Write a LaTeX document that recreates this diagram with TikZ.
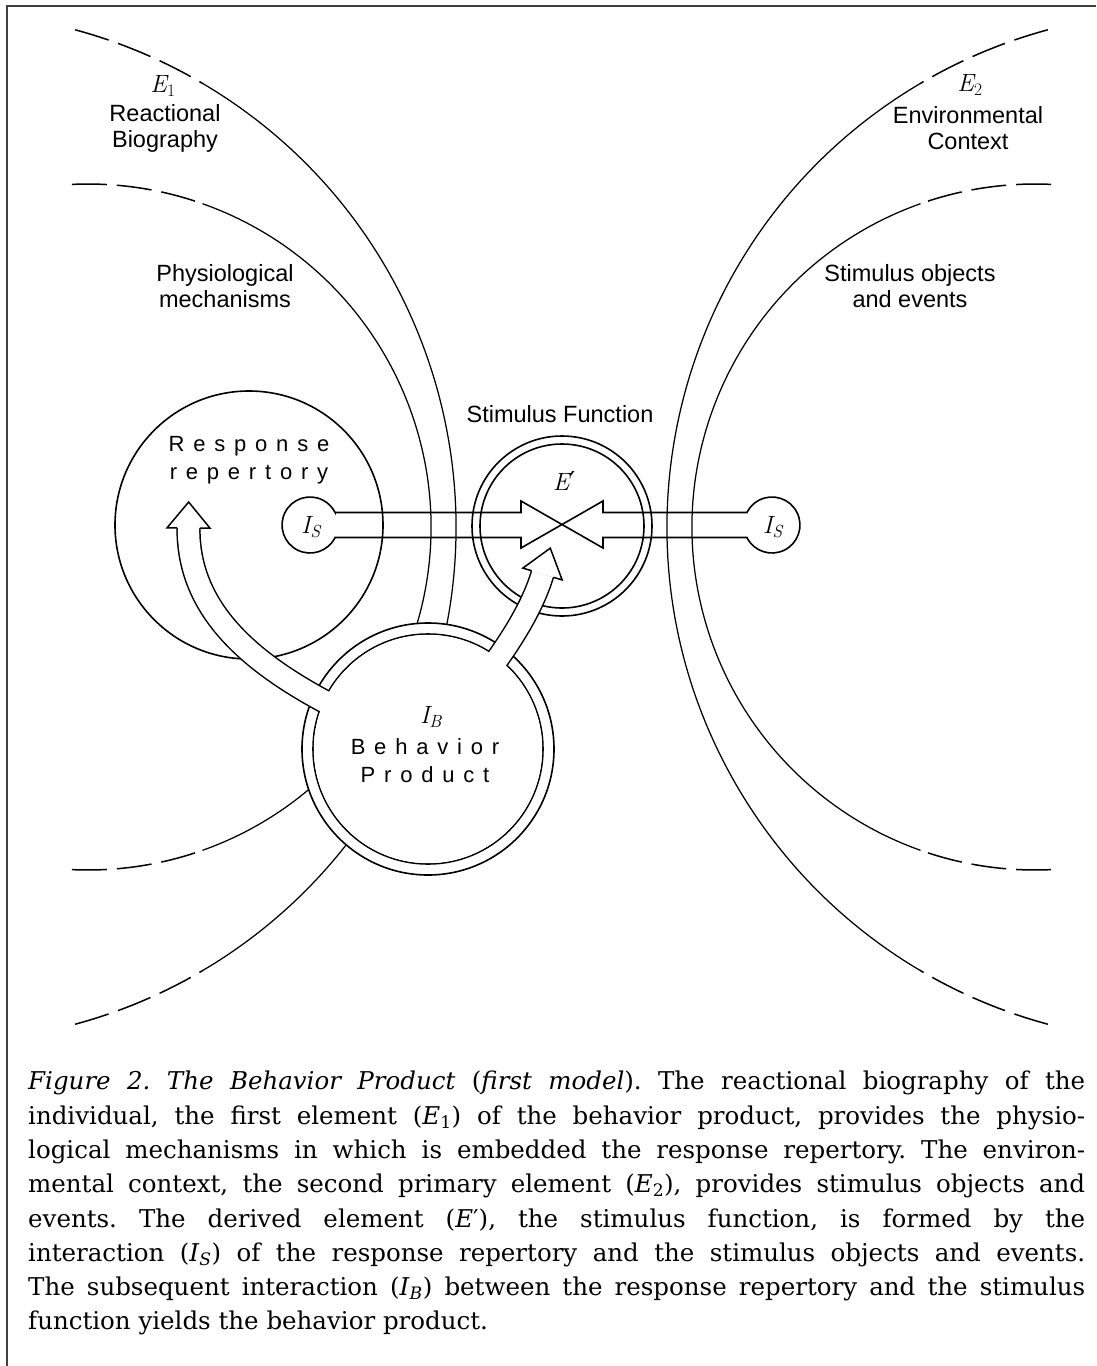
\documentclass[tikz,border=0pt]{standalone}
\usepackage{fontspec}
\setmainfont{DejaVu Serif}
\newfontfamily\labelfont{Liberation Sans}
\newfontfamily\spacedfont[LetterSpace=40]{Liberation Sans}
\newfontfamily\symfont{Latin Modern Roman}
\newfontfamily\primefont{DejaVu Serif}
% italic letters with a subscript, as used for the elements and interactions
\newcommand{\elem}[2]{{\symfont\itshape #1\textsubscript{#2}}}
\newcommand{\celem}[2]{\textit{#1}\textsubscript{#2}}
\usetikzlibrary{calc}
\begin{document}
\begin{tikzpicture}[x=1pt,y=1pt,yscale=-1,
  curve/.style={line width=1.25pt},
  dashcurve/.style={line width=1.5pt, dash pattern=on 35pt off 10pt},
  ring/.style={line width=1.6pt},
  pipe/.style={line width=1.5pt, double=white, double distance=21.3pt},
  head/.style={line width=1.5pt, fill=white, line join=miter},
  lab/.style={font=\labelfont\fontsize{23.5}{26}\selectfont, align=center, inner sep=0pt},
  spaced/.style={font=\spacedfont\fontsize{22}{28}\selectfont, align=center, inner sep=0pt},
  sym/.style={font=\fontsize{25}{28}\selectfont, inner sep=0pt},
  frame/.style={line width=2pt, draw=black!75}]

\useasboundingbox (0,0) rectangle (1096,1366);
\fill[white] (0,0) rectangle (1096,1366);
\draw[frame] (7,1366) -- (7,6) -- (1096,6);

% centres of the boundary arcs
\coordinate (c1) at (-59,527);   % reactional biography
\coordinate (c2) at (88,527);    % physiological mechanisms
\coordinate (c3) at (1182,527);  % environmental context
\coordinate (c4) at (1035,527);  % stimulus objects and events

% E1 boundary
\draw[dashcurve] (c1) ++(-74.9:515) arc[start angle=-74.9, end angle=-59.4, radius=515];
\draw[curve] (c1) ++(-59.4:515) arc[start angle=-59.4, end angle=59.4, radius=515];
\draw[dashcurve] (c1) ++(74.9:515) arc[start angle=74.9, end angle=59.4, radius=515];
% physiological boundary
\draw[dashcurve] (c2) ++(-92.7:343) arc[start angle=-92.7, end angle=-70.5, radius=343];
\draw[curve] (c2) ++(-70.5:343) arc[start angle=-70.5, end angle=70.5, radius=343];
\draw[dashcurve] (c2) ++(92.7:343) arc[start angle=92.7, end angle=70.5, radius=343];
% E2 boundary
\draw[dashcurve] (c3) ++(254.9:515) arc[start angle=254.9, end angle=239.4, radius=515];
\draw[curve] (c3) ++(239.4:515) arc[start angle=239.4, end angle=120.6, radius=515];
\draw[dashcurve] (c3) ++(105.1:515) arc[start angle=105.1, end angle=120.6, radius=515];
% stimulus objects boundary
\draw[dashcurve] (c4) ++(272.7:343) arc[start angle=272.7, end angle=250.5, radius=343];
\draw[curve] (c4) ++(250.5:343) arc[start angle=250.5, end angle=109.5, radius=343];
\draw[dashcurve] (c4) ++(87.3:343) arc[start angle=87.3, end angle=109.5, radius=343];

% region labels
\node[sym] (e1) at (163,86) {\elem{E}{\upshape 1}};
\node[lab] (bio) at (165,128) {Reactional\\Biography};
\node[sym] (e2) at (970,85) {\elem{E}{\upshape 2}};
\node[lab] (env) at (968,128) {Environmental\\Context};
\node[lab] (phys) at (225,286) {Physiological\\mechanisms};
\node[lab] (stim) at (910,286) {Stimulus objects\\and events};
\node[lab] (sf) at (560,414) {Stimulus Function};

% response repertory and stimulus function
\coordinate (rr) at (249,525);
\coordinate (ep) at (562,526);
\coordinate (bp) at (428,749);
\draw[ring] (rr) circle[radius=134];
\draw[ring] (ep) circle[radius=90];
\draw[ring] (ep) circle[radius=82];

% the two interactions I_S meeting in the stimulus function
\coordinate (isl) at (310,525);
\coordinate (isr) at (772,525);
\coordinate (lt) at (335.1,512.5);
\coordinate (lb) at (335.1,537.5);
\coordinate (rt) at (746.9,512.5);
\coordinate (rb) at (746.9,537.5);
\coordinate (xa) at (521,512.5);
\coordinate (xat) at (521,501);
\coordinate (xbb) at (521,548);
\coordinate (xb) at (521,537.5);
\coordinate (ya) at (603,512.5);
\coordinate (yat) at (603,501);
\coordinate (ybb) at (603,548);
\coordinate (yb) at (603,537.5);
\draw[ring, line join=miter] (lt) -- (xa) -- (xat) -- (ybb) -- (yb) -- (rb)
  arc[start angle=153.5, end angle=-153.5, radius=28]
  -- (ya) -- (yat) -- (xbb) -- (xb) -- (lb)
  arc[start angle=26.5, end angle=333.5, radius=28] -- cycle;
\node[sym] (isln) at (311,527) {\elem{I}{S}};
\node[sym] (isrn) at (773,527) {\elem{I}{S}};
\node[sym] (epn) at (564,481) {{\symfont\itshape E}{\primefont\fontsize{26}{26}\selectfont ′}};

% behavior product ring
\filldraw[ring, fill=white] (bp) circle[radius=126];
\draw[ring] (bp) circle[radius=115];

% interaction I_B: back to the response repertory
\coordinate (a1s) at (345,712);
\coordinate (a1c) at (250,665);
\coordinate (a1d) at (188,610);
\coordinate (a1e) at (188.5,528);
\draw[pipe] (a1s) .. controls (a1c) and (a1d) .. (a1e);
\filldraw[head] ($(a1e)!11.4pt!90:(a1d)$) -- ($(a1e)!21.5pt!90:(a1d)$)
  -- ($(a1e)!-26pt!(a1d)$) -- ($(a1e)!21.5pt!-90:(a1d)$) -- ($(a1e)!11.4pt!-90:(a1d)$);

% interaction I_B: on to the stimulus function
\coordinate (a2s) at (486.5,674);
\coordinate (a2c) at (510.5,642);
\coordinate (a2d) at (532.4,607.6);
\coordinate (a2e) at (542.5,574);
\draw[pipe] (a2s) .. controls (a2c) and (a2d) .. (a2e);
\filldraw[head] ($(a2e)!11.4pt!90:(a2d)$) -- ($(a2e)!20.5pt!90:(a2d)$)
  -- ($(a2e)!-27pt!(a2d)$) -- ($(a2e)!20.5pt!-90:(a2d)$) -- ($(a2e)!11.4pt!-90:(a2d)$);

\fill[white] (bp) circle[radius=114.2];

\node[spaced] (rrn) at (249,460) {Response\\repertory};
\node[sym] (ibn) at (431,717) {\elem{I}{B}};
\node[spaced] (bpn) at (425,761) {Behavior\\Product};

% caption
\node[anchor=north west, align=left, inner sep=0pt,
      font=\fontsize{24.5}{34.3}\selectfont\frenchspacing] (cap) at (28,1071) {%
\makebox[1057pt][s]{\textit{Figure 2. The Behavior Product} (\textit{first model}). The reactional biography of the}\\
\makebox[1057pt][s]{individual, the first element (\celem{E}{1}) of the behavior product, provides the physio-}\\
\makebox[1057pt][s]{logical mechanisms in which is embedded the response repertory. The environ-}\\
\makebox[1057pt][s]{mental context, the second primary element (\celem{E}{2}), provides stimulus objects and}\\
\makebox[1057pt][s]{events. The derived element (\textit{E}′), the stimulus function, is formed by the}\\
\makebox[1057pt][s]{interaction (\celem{I}{\itshape S}) of the response repertory and the stimulus objects and events.}\\
\makebox[1057pt][s]{The subsequent interaction (\celem{I}{\itshape B}) between the response repertory and the stimulus}\\
function yields the behavior product.};
\end{tikzpicture}
\end{document}
